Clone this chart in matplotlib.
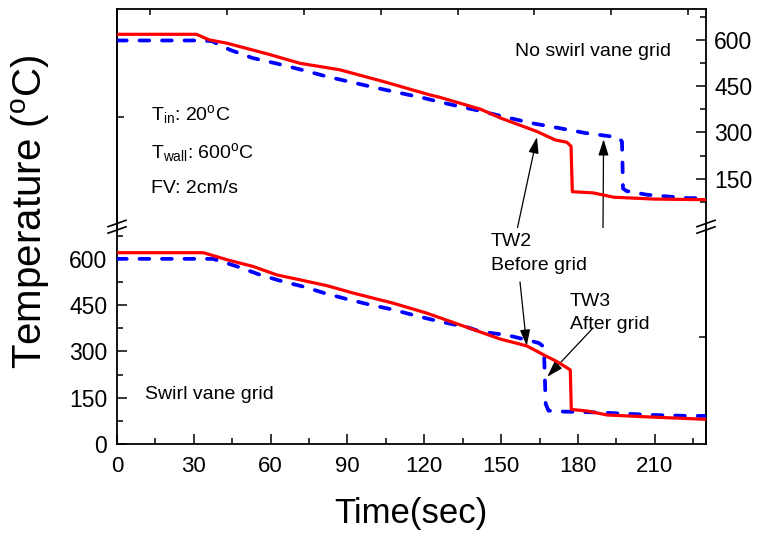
import numpy as np
import matplotlib
matplotlib.use('Agg')
import matplotlib.pyplot as plt
from matplotlib.lines import Line2D

plt.rcParams['font.family'] = ['Liberation Sans', 'DejaVu Sans']
plt.rcParams['mathtext.fontset'] = 'custom'
plt.rcParams['mathtext.rm'] = 'Liberation Sans'
plt.rcParams['mathtext.it'] = 'Liberation Sans:italic'

# --- data (time in s, temperature in degC) ---
# upper panel: no swirl vane grid
t_top_tw2 = [0, 31, 36, 43, 58.5, 71.5, 87, 104, 122, 126, 142, 150, 164, 171,
             175.7, 177.3, 177.8, 186, 194, 210, 230]
v_top_tw2 = [618, 618, 600, 589, 555, 524, 503, 465, 422, 414, 375, 346, 303, 276,
             268, 255, 108, 104, 90, 84, 82]
t_top_tw3 = [0, 32, 37, 44, 53, 63, 73, 82, 92, 102, 111, 120, 129, 141, 151.6,
             162, 172.7, 183, 193, 196, 197.2, 197.6, 199, 207, 223, 230]
v_top_tw3 = [598, 598, 596, 568, 541, 522, 501, 481, 462, 443, 427, 411, 393, 371, 350,
             330, 314, 298, 287, 283, 270, 118, 110, 98, 87, 87]

# lower panel: swirl vane grid
t_bot_tw2 = [0, 33.7, 43, 53.3, 62.4, 71.5, 82, 92.3, 108, 121, 134, 149.7, 160,
             166.6, 171.8, 175.7, 177.0, 177.4, 183.5, 191.4, 209.5, 230]
v_bot_tw2 = [620, 620, 597, 575, 548, 532, 513, 489, 456, 424, 386, 340, 318,
             289, 267, 247, 240, 112, 107, 94, 87, 80]
t_bot_tw3 = [0, 37.5, 47, 56, 65, 72.8, 81, 90, 99, 108, 117, 126, 137, 142, 152.3,
             162.6, 164.8, 166.2, 166.8, 167.4, 168.5, 174.4, 188.8, 209.5, 223, 230]
v_bot_tw3 = [600, 600, 575, 548, 526, 510, 489, 469, 451, 435, 415, 397, 378, 364, 353,
             332, 327, 318, 283, 130, 108, 105, 102, 94, 91, 91]

x_major = np.arange(0, 211, 30)
x_minor = np.arange(15, 230, 30)
x_top_ticks = np.arange(13, 230, 30)
y_major = [150, 300, 450, 600]
y_minor = [75, 225, 375, 525, 675]

W, H = 762, 535
fig = plt.figure(figsize=(W / 100, H / 100), dpi=100)


def fx(px):
    return px / W


def fy(py):
    return 1 - py / H


ax_top = fig.add_axes([fx(117), fy(225), fx(706) - fx(117), fy(9) - fy(225)])
ax_bot = fig.add_axes([fx(117), fy(444), fx(706) - fx(117), fy(228) - fy(444)])

red = '#ff0000'
blue = '#0000ff'
for ax, (t2, v2, t3, v3) in [(ax_top, (t_top_tw2, v_top_tw2, t_top_tw3, v_top_tw3)),
                             (ax_bot, (t_bot_tw2, v_bot_tw2, t_bot_tw3, v_bot_tw3))]:
    ax.plot(t3, v3, color=blue, lw=2.7, dashes=(2.6, 3.4), dash_capstyle='round',
            zorder=3)
    ax.plot(t2, v2, color=red, lw=2.3, zorder=4)
    ax.set_xlim(0, 230)
    ax.set_ylim(0, 700)
    for s in ax.spines.values():
        s.set_linewidth(1.3)

tick_kw = dict(direction='in', width=1.1, colors='black')

# upper panel
ax_top.spines['bottom'].set_visible(False)
ax_top.xaxis.set_ticks_position('top')
ax_top.set_xticks(x_top_ticks)
ax_top.tick_params(axis='x', which='both', top=True, bottom=False, labeltop=False,
                   labelbottom=False, length=4, **tick_kw)
ax_top.yaxis.set_ticks_position('right')
ax_top.set_yticks(y_major)
ax_top.set_yticks(y_minor, minor=True)
ax_top.tick_params(axis='y', which='major', right=True, left=False, labelright=True,
                   labelleft=False, length=7, labelsize=16.5, pad=6, **tick_kw)
ax_top.tick_params(axis='y', which='minor', right=True, left=False, length=4, **tick_kw)
sec = ax_top.secondary_yaxis('left')
sec.set_yticks([351])
sec.tick_params(direction='in', length=5, width=1.1, labelleft=False)
sec.spines['left'].set_linewidth(1.3)

# lower panel
ax_bot.spines['top'].set_visible(False)
ax_bot.set_xticks(x_major)
ax_bot.set_xticks(x_minor, minor=True)
ax_bot.tick_params(axis='x', which='major', top=False, length=7, labelsize=16,
                   pad=9, **tick_kw)
ax_bot.tick_params(axis='x', which='minor', top=False, length=4, **tick_kw)
ax_bot.set_yticks([0] + y_major)
ax_bot.set_yticks(y_minor, minor=True)
ax_bot.tick_params(axis='y', which='major', right=False, length=7, labelsize=16.5,
                   pad=7, **tick_kw)
ax_bot.tick_params(axis='y', which='minor', right=False, length=4, **tick_kw)
sec2 = ax_bot.secondary_yaxis('right')
sec2.set_yticks([348])
sec2.tick_params(direction='in', length=5, width=1.1, labelright=False)
sec2.spines['right'].set_linewidth(1.3)

# axis-break marks
for xc in (117, 706):
    for yc in (223.5, 230):
        fig.add_artist(Line2D([fx(xc - 9), fx(xc + 9)], [fy(yc + 3.2), fy(yc - 3.2)],
                              color='black', lw=1.2, transform=fig.transFigure))
    fig.add_artist(Line2D([fx(xc), fx(xc)], [fy(225), fy(228)], color='black',
                          lw=1.3, transform=fig.transFigure))

# axis labels
fig.text(fx(31), fy(212), 'Temperature ($^{\\rm o}$C)', rotation=90, fontsize=29,
         ha='center', va='center')
fig.text(fx(411), fy(523), 'Time(sec)', fontsize=25, ha='center', va='baseline')

# annotations
fs = 14
fig.text(fx(151), fy(119.5), 'T$_{\\rm in}$: 20$^{\\rm o}$C', fontsize=fs, va='baseline')
fig.text(fx(151), fy(158), 'T$_{\\rm wall}$: 600$^{\\rm o}$C', fontsize=fs, va='baseline')
fig.text(fx(151), fy(193), 'FV: 2cm/s', fontsize=fs, va='baseline')
fig.text(fx(515), fy(56.5), 'No swirl vane grid', fontsize=fs, va='baseline')
fig.text(fx(145), fy(399), 'Swirl vane grid', fontsize=fs, va='baseline')
fig.text(fx(491), fy(246.5), 'TW2', fontsize=fs, va='baseline')
fig.text(fx(491), fy(270), 'Before grid', fontsize=fs, va='baseline')
fig.text(fx(570), fy(306), 'TW3', fontsize=fs, va='baseline')
fig.text(fx(570), fy(329), 'After grid', fontsize=fs, va='baseline')

arrow = dict(arrowstyle='-|>,head_length=0.7,head_width=0.22', color='black', lw=0.9,
             mutation_scale=14, shrinkA=0, shrinkB=0)
ax_top.annotate('', xy=(164, 285), xytext=(fx(517), fy(230)),
                textcoords='figure fraction', arrowprops=arrow, annotation_clip=False)
ax_top.annotate('', xy=(190, 278), xytext=(fx(602.7), fy(275)),
                textcoords='figure fraction', arrowprops=arrow, annotation_clip=False)
ax_bot.annotate('', xy=(160, 318), xytext=(fx(520), fy(282)),
                textcoords='figure fraction', arrowprops=arrow, annotation_clip=False)
ax_bot.annotate('', xy=(168, 218), xytext=(fx(593), fy(328)),
                textcoords='figure fraction', arrowprops=arrow, annotation_clip=False)

fig.savefig('out.png', dpi=100)
